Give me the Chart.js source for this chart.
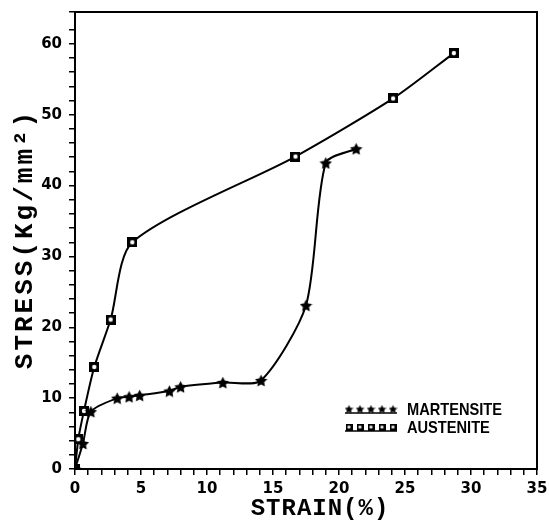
<!DOCTYPE html>
<html>
<head>
<meta charset="utf-8">
<script src="https://cdn.jsdelivr.net/npm/chart.js@4/dist/chart.umd.min.js"></script>
<style>
  html, body { margin: 0; padding: 0; background: #fff; }
  #wrap { width: 549px; height: 524px; position: relative; }
</style>
</head>
<body>
<div id="wrap"><canvas id="chart" width="549" height="524"></canvas></div>
<script>
// strain (%) / stress (Kg/mm2)
const martensiteStrain = [0, 0.6, 1.2, 3.2, 4.1, 4.9, 7.15, 8.0, 11.2, 14.1, 17.5, 19.0, 21.3];
const martensiteStress = [0, 3.6, 8.1, 10.0, 10.2, 10.4, 11.0, 11.6, 12.2, 12.5, 23.1, 43.2, 45.2];

const austeniteStrain = [0, 0.25, 0.68, 1.46, 2.7, 4.34, 16.7, 24.1, 28.7];
const austeniteStress = [0, 4.2, 8.2, 14.4, 21.1, 32.0, 44.1, 52.3, 58.7];

const xTickLabels = [0, 5, 10, 15, 20, 25, 30, 35];
const yTickLabels = [0, 10, 20, 30, 40, 50, 60];

const seriesNames = ["MARTENSITE", "AUSTENITE"];
const xTitle = "STRAIN(%)";
const yTitle = "STRESS(Kg/mm²)";

function toPoints(xs, ys) {
  return xs.map((x, i) => ({ x, y: ys[i] }));
}

function makeStar(size) {
  const c = document.createElement("canvas");
  c.width = size; c.height = size;
  const g = c.getContext("2d");
  const cx = size / 2, cy = size / 2 + size * 0.05, R = size / 2, r = R * 0.5;
  g.beginPath();
  for (let i = 0; i < 10; i++) {
    const a = -Math.PI / 2 + i * Math.PI / 5;
    const rad = i % 2 === 0 ? R : r;
    g.lineTo(cx + rad * Math.cos(a), cy + rad * Math.sin(a));
  }
  g.closePath();
  g.fillStyle = "#000";
  g.fill();
  return c;
}

function makeBox(size) {
  const c = document.createElement("canvas");
  c.width = size; c.height = size;
  const g = c.getContext("2d");
  g.fillStyle = "#000";
  g.fillRect(0, 0, size, size);
  g.fillStyle = "#fff";
  g.beginPath();
  g.arc(size / 2, size / 2, size * 0.22, 0, Math.PI * 2);
  g.fill();
  return c;
}

const starImg = makeStar(13);
const boxImg = makeBox(10);

// frame, axis titles and legend
const framePlugin = {
  id: "frame",
  afterDraw(chart) {
    const { ctx, chartArea: a } = chart;
    ctx.save();
    ctx.strokeStyle = "#000";
    ctx.fillStyle = "#000";
    ctx.lineWidth = 2;
    ctx.strokeRect(a.left, a.top, a.right - a.left, a.bottom - a.top);

    // axis titles
    ctx.font = "bold 24px 'Liberation Mono', 'Courier New', monospace";
    ctx.textAlign = "center";
    ctx.textBaseline = "middle";
    ctx.letterSpacing = "1px";
    ctx.fillText(xTitle, 320, 509);
    ctx.save();
    ctx.translate(25, 239);
    ctx.rotate(-Math.PI / 2);
    ctx.font = "bold 26px 'Liberation Mono', 'Courier New', monospace";
    ctx.letterSpacing = "3px";
    ctx.fillText(yTitle, 0, 0);
    ctx.restore();
    ctx.letterSpacing = "0px";

    // legend
    const lx = a.left + 274, ly = a.bottom - 60;
    const rows = [[makeStar(9), seriesNames[0]], [makeBox(7), seriesNames[1]]];
    ctx.textAlign = "left";
    rows.forEach(([img, name], r) => {
      const y = ly + r * 18;
      for (let i = 0; i < 5; i++) {
        ctx.drawImage(img, lx + i * 11 - img.width / 2, y - img.height / 2);
      }
      ctx.lineWidth = 1.5;
      ctx.beginPath();
      ctx.moveTo(lx - 4, y + 4);
      ctx.lineTo(lx + 48, y + 4);
      ctx.stroke();
      ctx.save();
      ctx.translate(lx + 58, y + 1);
      ctx.scale(0.86, 1);
      ctx.font = "bold 17px 'Liberation Sans', Arial, sans-serif";
      ctx.fillText(name, 0, 0);
      ctx.restore();
    });
    ctx.restore();
  }
};

const tickFont = { family: "'DejaVu Sans', sans-serif", size: 15, weight: "bold" };

new Chart(document.getElementById("chart"), {
  type: "scatter",
  data: {
    datasets: [
      {
        label: seriesNames[0],
        data: toPoints(martensiteStrain, martensiteStress),
        showLine: true,
        borderColor: "#000",
        borderWidth: 2,
        tension: 0.25,
        pointStyle: starImg,
        pointRadius: 6
      },
      {
        label: seriesNames[1],
        data: toPoints(austeniteStrain, austeniteStress),
        showLine: true,
        borderColor: "#000",
        borderWidth: 2,
        tension: 0.25,
        pointStyle: boxImg,
        pointRadius: 5
      }
    ]
  },
  options: {
    responsive: false,
    animation: false,
    layout: { padding: { top: 12, right: 12, left: 0, bottom: 0 } },
    plugins: {
      legend: { display: false },
      tooltip: { enabled: false }
    },
    scales: {
      x: {
        type: "linear",
        min: 0,
        max: 35,
        afterFit: s => { s.height = 55; s.paddingRight = 0; s.paddingLeft = 0; },
        border: { color: "#000", width: 2 },
        grid: { drawOnChartArea: false, color: "#000", tickLength: 6, lineWidth: 1.5 },
        ticks: {
          stepSize: 1,
          autoSkip: false,
          maxRotation: 0,
          color: "#000",
          font: tickFont,
          padding: 5,
          callback: v => xTickLabels.includes(v) ? String(v) : ""
        }
      },
      y: {
        type: "linear",
        min: 0,
        max: 64.5,
        afterFit: s => { s.width = 75; s.paddingTop = 0; s.paddingBottom = 0; },
        border: { color: "#000", width: 2 },
        grid: { drawOnChartArea: false, color: "#000", tickLength: 6, lineWidth: 1.5 },
        ticks: {
          stepSize: 2,
          autoSkip: false,
          color: "#000",
          font: tickFont,
          padding: 7,
          callback: v => yTickLabels.includes(v) ? String(v) : ""
        }
      }
    }
  },
  plugins: [framePlugin]
});
</script>
</body>
</html>
